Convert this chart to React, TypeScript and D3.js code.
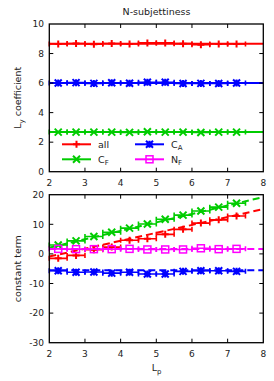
import * as d3 from 'd3'
import { useEffect, useRef } from 'react'

// x positions of the measured points (L_p)
const lp = [2.25, 2.75, 3.25, 3.75, 4.25, 4.75, 5.25, 5.75, 6.25, 6.75, 7.25]
const xErr = 0.25

// top panel: L_y coefficient
const coefAll = [8.65, 8.68, 8.63, 8.68, 8.65, 8.72, 8.72, 8.67, 8.6, 8.65, 8.65]
const coefCA = [6.0, 6.03, 5.98, 6.02, 5.99, 6.06, 6.06, 5.97, 5.98, 5.97, 6.0]
const coefCF = [2.68, 2.68, 2.68, 2.68, 2.66, 2.7, 2.68, 2.68, 2.65, 2.68, 2.68]

// bottom panel: constant term
const constAll = [-1.5, -0.5, 1.4, 2.3, 4.6, 5.1, 6.6, 8.3, 10.4, 11.5, 12.8]
const constCA = [-5.7, -6.2, -6.1, -6.5, -6.2, -6.8, -6.8, -5.9, -5.7, -5.7, -5.9]
const constCF = [3.0, 4.4, 5.9, 7.3, 8.7, 10.1, 11.7, 13.1, 14.5, 15.8, 17.1]
const constNF = [1.7, 1.6, 1.6, 1.6, 1.7, 1.5, 1.5, 1.5, 1.9, 1.6, 1.7]

// fits: [value at L_p = 2, slope]
const topFits = { all: [8.67, 0], CA: [6.0, 0], CF: [2.68, 0] }
const bottomFits = { all: [-0.9, 2.67], CA: [-5.55, 0], CF: [2.1, 2.85], NF: [1.65, 0] }

const xTicks = [2, 3, 4, 5, 6, 7, 8]
const topTicks = [0, 2, 4, 6, 8, 10]
const bottomTicks = [-30, -20, -10, 0, 10, 20]

const colors = { all: '#ff0000', CA: '#0000ff', CF: '#00cc00', NF: '#ff00ff' }

export default function App() {
	const svgRef = useRef(null)

	useEffect(() => {
		const svg = d3.select(svgRef.current)
		svg.selectAll('*').remove()
		const font = 'DejaVu Sans, sans-serif'

		const x = d3.scaleLinear().domain([2, 8]).range([49.3, 263.3])
		const yTop = d3.scaleLinear().domain([0, 10]).range([171.7, 24])
		const yBot = d3.scaleLinear().domain([-30, 20]).range([342.7, 194.7])

		// marker shapes
		const marker = (g, kind, cx, cy, color) => {
			const s = 3.5
			let d = ''
			if (kind === 'plus') d = `M${cx - s},${cy}H${cx + s}M${cx},${cy - s}V${cy + s}`
			if (kind === 'cross') d = `M${cx - s},${cy - s}L${cx + s},${cy + s}M${cx - s},${cy + s}L${cx + s},${cy - s}`
			if (kind === 'star') d = `M${cx - s},${cy - s}L${cx + s},${cy + s}M${cx - s},${cy + s}L${cx + s},${cy - s}M${cx - s},${cy}H${cx + s}M${cx},${cy - s}V${cy + s}`
			if (kind === 'square') {
				g.append('rect').attr('x', cx - 3.5).attr('y', cy - 3.5).attr('width', 7).attr('height', 7)
					.attr('fill', 'none').attr('stroke', color).attr('stroke-width', 1.5)
				return
			}
			g.append('path').attr('d', d).attr('fill', 'none').attr('stroke', color).attr('stroke-width', 2)
		}

		const drawSeries = (y, vals, color, kind) => {
			const g = svg.append('g')
			vals.forEach((v, i) => {
				const px = y(v)
				g.append('path')
					.attr('d', `M${x(lp[i] - xErr)},${px}H${x(lp[i] + xErr)}M${x(lp[i] - xErr)},${px - 2.5}V${px + 2.5}M${x(lp[i] + xErr)},${px - 2.5}V${px + 2.5}`)
					.attr('stroke', color).attr('stroke-width', 1.6).attr('fill', 'none')
				marker(g, kind, x(lp[i]), px, color)
			})
		}

		const drawFit = (y, fit, color, dashed) => {
			const pts = [2, 8].map((v) => [v, fit[0] + fit[1] * (v - 2)])
			svg.append('path')
				.datum(pts)
				.attr('fill', 'none')
				.attr('stroke', color)
				.attr('stroke-width', 2)
				.attr('stroke-dasharray', dashed ? '7,4' : null)
				.attr('d', d3.line().x((d) => x(d[0])).y((d) => y(d[1])))
		}

		const drawFrame = (y, ticks) => {
			const [y0, y1] = y.range()
			const g = svg.append('g').attr('font-family', font).attr('font-size', 9).attr('fill', '#222')
			xTicks.forEach((t) => {
				if (t > 2 && t < 8) {
					g.append('line').attr('x1', x(t)).attr('x2', x(t)).attr('y1', y0).attr('y2', y0 - 4).attr('stroke', '#000')
					g.append('line').attr('x1', x(t)).attr('x2', x(t)).attr('y1', y1).attr('y2', y1 + 4).attr('stroke', '#000')
				}
				g.append('text').attr('x', x(t)).attr('y', y0 + 14).attr('text-anchor', 'middle').text(t)
			})
			ticks.forEach((t) => {
				if (t !== ticks[0] && t !== ticks[ticks.length - 1]) {
					g.append('line').attr('x1', x(2)).attr('x2', x(2) + 4).attr('y1', y(t)).attr('y2', y(t)).attr('stroke', '#000')
					g.append('line').attr('x1', x(8)).attr('x2', x(8) - 4).attr('y1', y(t)).attr('y2', y(t)).attr('stroke', '#000')
				}
				g.append('text').attr('x', 44).attr('y', y(t) + 3.3).attr('text-anchor', 'end').text(t)
			})
			svg.append('rect')
				.attr('x', x(2)).attr('y', y1).attr('width', x(8) - x(2)).attr('height', y0 - y1)
				.attr('fill', 'none').attr('stroke', '#000').attr('stroke-width', 1.3)
		}

		// top panel
		drawFit(yTop, topFits.all, colors.all, false)
		drawFit(yTop, topFits.CA, colors.CA, false)
		drawFit(yTop, topFits.CF, colors.CF, false)
		drawSeries(yTop, coefAll, colors.all, 'plus')
		drawSeries(yTop, coefCA, colors.CA, 'star')
		drawSeries(yTop, coefCF, colors.CF, 'cross')
		drawFrame(yTop, topTicks)

		// bottom panel
		drawFit(yBot, bottomFits.all, colors.all, true)
		drawFit(yBot, bottomFits.CA, colors.CA, true)
		drawFit(yBot, bottomFits.CF, colors.CF, true)
		drawFit(yBot, bottomFits.NF, colors.NF, true)
		drawSeries(yBot, constAll, colors.all, 'plus')
		drawSeries(yBot, constCA, colors.CA, 'star')
		drawSeries(yBot, constCF, colors.CF, 'cross')
		drawSeries(yBot, constNF, colors.NF, 'square')
		drawFrame(yBot, bottomTicks)

		// legend
		const legend = [
			{ label: 'all', sub: '', color: colors.all, kind: 'plus', lx: 62, ly: 144.3 },
			{ label: 'C', sub: 'A', color: colors.CA, kind: 'star', lx: 135, ly: 144.3 },
			{ label: 'C', sub: 'F', color: colors.CF, kind: 'cross', lx: 62, ly: 159.3 },
			{ label: 'N', sub: 'F', color: colors.NF, kind: 'square', lx: 135, ly: 159.3 },
		]
		legend.forEach((l) => {
			const g = svg.append('g')
			g.append('line').attr('x1', l.lx).attr('x2', l.lx + 29).attr('y1', l.ly).attr('y2', l.ly)
				.attr('stroke', l.color).attr('stroke-width', 2)
			marker(g, l.kind, l.lx + 14.5, l.ly, l.color)
			const t = g.append('text').attr('x', l.lx + 36).attr('y', l.ly + 3.5)
				.attr('font-family', font).attr('font-size', 9.5).attr('fill', '#222')
			t.append('tspan').text(l.label)
			if (l.sub) t.append('tspan').attr('font-size', 7).attr('dy', 2.5).text(l.sub)
		})

		// titles
		const lab = svg.append('g').attr('font-family', font).attr('font-size', 9.5).attr('fill', '#222')
		lab.append('text').attr('x', 156.5).attr('y', 14.5).attr('text-anchor', 'middle').text('N-subjettiness')
		const yl1 = lab.append('text').attr('transform', 'translate(21,97.8) rotate(-90)').attr('text-anchor', 'middle')
		yl1.append('tspan').text('L')
		yl1.append('tspan').attr('font-size', 7).attr('dy', 2.5).text('y')
		yl1.append('tspan').attr('dy', -2.5).text(' coefficient')
		lab.append('text').attr('transform', 'translate(21,268.7) rotate(-90)').attr('text-anchor', 'middle').text('constant term')
		const xl = lab.append('text').attr('x', 156.5).attr('y', 371).attr('text-anchor', 'middle')
		xl.append('tspan').text('L')
		xl.append('tspan').attr('font-size', 7).attr('dy', 2.5).text('p')
	}, [])

	return (
		<svg
			ref={svgRef}
			width={274}
			height={381}
			style={{ position: 'absolute', left: 0, top: 0, background: '#fff' }}
		/>
	)
}
